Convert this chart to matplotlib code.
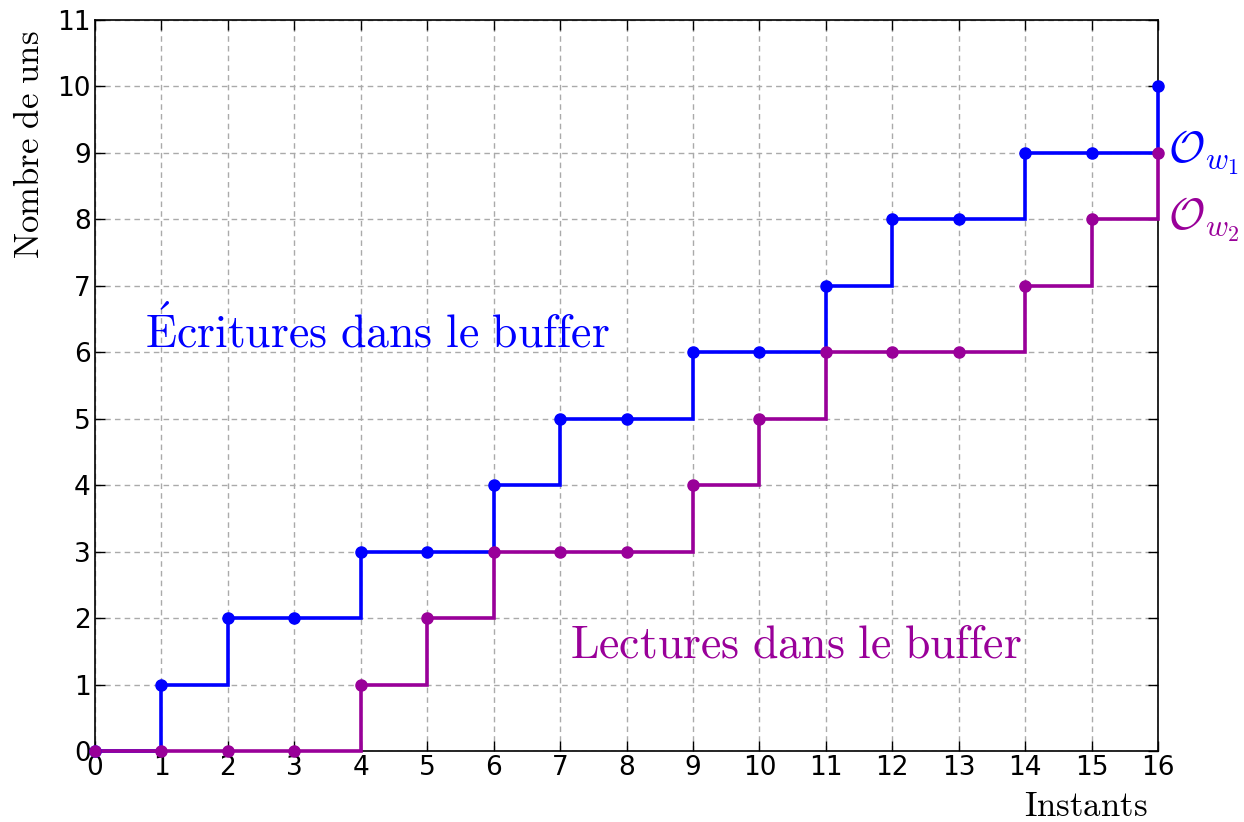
import matplotlib
matplotlib.use("Agg")
import matplotlib.pyplot as plt

plt.rcParams['mathtext.fontset'] = 'cm'

instants = list(range(17))
ecritures = [0, 1, 2, 2, 3, 3, 4, 5, 5, 6, 6, 7, 8, 8, 9, 9, 10]
lectures = [0, 0, 0, 0, 1, 2, 3, 3, 3, 4, 5, 6, 6, 6, 7, 8, 9]

BLUE = "#0000ff"
PURPLE = "#990099"

fig = plt.figure(figsize=(12.44, 8.22), dpi=100)
ax = fig.add_axes([95 / 1244, 71 / 822, 1063 / 1244, 731 / 822])


def stairs(x, y):
    # steps-post, with the final jump drawn at the last instant
    xs, ys = [x[0]], [y[0]]
    for i in range(1, len(x)):
        xs += [x[i], x[i]]
        ys += [y[i - 1], y[i]]
    return xs, ys


xs, ys = stairs(instants, ecritures)
ax.plot(xs, ys, color=BLUE, lw=2.6, zorder=3, solid_joinstyle='miter')
ax.plot(instants, ecritures, 'o', color=BLUE, ms=8, zorder=4)
xs, ys = stairs(instants, lectures)
ax.plot(xs, ys, color=PURPLE, lw=2.6, zorder=3, solid_joinstyle='miter')
ax.plot(instants, lectures, 'o', color=PURPLE, ms=8, zorder=4)

ax.set_xlim(0, 16)
ax.set_ylim(0, 11)
ax.set_xticks(instants)
ax.set_yticks(range(12))
ax.grid(True, color="#aaaaaa", ls=(0, (4, 3)), lw=1)
ax.tick_params(direction='in', top=True, right=True, length=7, width=1,
               labelsize=19, pad=3)
for s in ax.spines.values():
    s.set_linewidth(1.2)
for l in ax.lines:
    l.set_clip_on(False)

ax.set_ylabel(r'$\mathrm{Nombre\ de\ uns}$', fontsize=25, labelpad=2)
ax.yaxis.set_label_coords(-0.046, 0.83)
ax.text(0.99, -0.052, r'$\mathrm{Instants}$', transform=ax.transAxes,
        fontsize=25, ha='right', va='top')

ax.text(0.75, 6.3, r'$\mathrm{\acute{E}critures\ dans\ le\ buffer}$',
        color=BLUE, fontsize=33, va='center')
ax.text(7.15, 1.6, r'$\mathrm{Lectures\ dans\ le\ buffer}$',
        color=PURPLE, fontsize=33, va='center')
ax.text(16.15, 9.0, r'$\mathcal{O}_{w_1}$', color=BLUE, fontsize=32,
        va='center', ha='left')
ax.text(16.15, 8.0, r'$\mathcal{O}_{w_2}$', color=PURPLE, fontsize=32,
        va='center', ha='left')

fig.savefig("out.png", dpi=100)
